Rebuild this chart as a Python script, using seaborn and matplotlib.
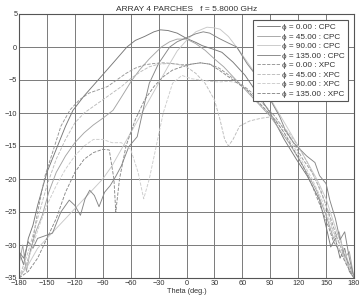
import numpy as np
import pandas as pd
import matplotlib
matplotlib.use("Agg")
import matplotlib.pyplot as plt
from matplotlib.ticker import MultipleLocator
import seaborn as sns

title = "ARRAY 4 PARCHES   f = 5.8000 GHz"
xlabel = "Theta (deg.)"

# CPC phi=0
cpc0_t = [-180, -175, -170, -165, -160, -150, -140, -130, -122, -110, -95, -80, -64, -55, -45, -35, -28, -20, -10, 0, 10, 17, 28, 38, 50, 63, 74, 90, 105, 118, 130, 143, 150, 155, 160, 165, 170, 175, 180]
cpc0_v = [-31, -33, -29, -27, -24, -19, -15.5, -12, -9.6, -7.4, -5.0, -2.6, 0.0, 1.0, 1.6, 2.3, 2.6, 2.5, 2.1, 1.3, 0.7, 0.2, -0.3, -0.8, -2.3, -4.3, -6.6, -10, -14, -17, -19.6, -23.2, -27.2, -30.3, -29, -32, -30.5, -34, -35]
# CPC phi=45
cpc45_t = [-180, -176, -172, -168, -162, -155, -148, -140, -130, -120, -110, -100, -90, -79, -70, -59, -50, -40, -27, -18, -10, 0, 10, 20, 30, 40, 50, 60, 70, 80, 90, 100, 110, 120, 130, 140, 150, 158, 164, 170, 175, 180]
cpc45_v = [-33, -30, -34, -31, -28, -25.5, -22, -19, -16.5, -14.5, -13, -11.8, -10.8, -9.6, -7.6, -5.1, -3.4, -1.8, 0.0, 0.8, 1.2, 1.2, 0.5, -0.5, -1.8, -3.0, -4.5, -6.0, -7.5, -9.0, -10.5, -12.5, -14.5, -16.8, -19.2, -21.8, -25.5, -29, -28, -32, -31, -35]
# CPC phi=90
cpc90_t = [-180, -170, -160, -150, -140, -130, -120, -110, -100, -90, -80, -70, -60, -50, -40, -30, -20, -10, 0, 10, 22, 30, 36, 45, 57, 68, 79, 90, 100, 110, 120, 130, 140, 150, 158, 164, 170, 175, 180]
cpc90_v = [-35, -33, -30.5, -29, -27.5, -26, -24.5, -23, -21.5, -20, -18, -15.5, -13, -10.5, -8, -5.5, -3, -0.6, 1.0, 2.3, 3.0, 2.9, 2.7, 1.6, -0.6, -2.8, -5.1, -7.8, -10.2, -12.6, -15, -17.5, -20, -23, -26.5, -29, -31, -33, -35]
# CPC phi=135
cpc135_t = [-180, -175, -170, -165, -160, -150, -144, -135, -126, -120, -114, -109, -104, -99, -94, -88, -82, -76, -70, -62, -53, -45, -40, -30, -18, -10, 0, 10, 18, 25, 35, 45, 54, 65, 79, 90, 100, 106, 115, 129, 138, 143, 150, 154, 160, 165, 170, 175, 180]
cpc135_v = [-31, -32, -29.5, -30.5, -29, -28.5, -28.2, -25, -23.2, -24, -25.5, -23, -21.7, -22.5, -24.2, -22, -21, -19.6, -18, -15.1, -13.6, -8.5, -5.5, -2.5, 0.0, 0.8, 1.4, 2.0, 2.3, 2.1, 1.3, 0.6, 0.0, -2.5, -5.1, -8, -10.5, -12.5, -14.5, -16.5, -17.5, -19.5, -20.7, -23.2, -26, -29.2, -28, -32, -35]
# XPC phi=0
xpc0_t = [-180, -172, -166, -160, -152, -144, -135, -125, -115, -105, -95, -85, -75, -65, -55, -45, -35, -25, -15, -5, 5, 15, 25, 35, 45, 55, 65, 75, 85, 95, 105, 115, 125, 135, 145, 155, 162, 168, 175, 180]
xpc0_v = [-35, -33, -30, -25, -19.5, -16, -12, -9.5, -8, -7, -6.5, -6, -5, -4, -3.2, -2.7, -2.5, -2.4, -2.5, -2.7, -2.6, -2.4, -2.6, -3.2, -4.2, -5.3, -6.3, -7.5, -9, -10.5, -12.5, -14.5, -17, -19, -22, -26, -29, -31, -33, -35]
# XPC phi=45
xpc45_t = [-180, -170, -160, -150, -140, -130, -120, -110, -100, -90, -80, -70, -60, -50, -40, -30, -20, -10, 0, 10, 20, 30, 36, 41, 45, 50, 57, 68, 80, 90, 100, 110, 120, 130, 140, 150, 158, 165, 172, 180]
xpc45_v = [-35, -31, -26, -21, -17, -14, -11.5, -10, -9, -8, -7, -6, -4.8, -3.8, -3, -2.6, -2.5, -2.6, -3, -4, -5.5, -8, -11, -14, -15, -14, -12, -11.2, -10.8, -10.6, -11.5, -13, -15, -17.5, -20.5, -24, -28, -30, -33, -35]
# XPC phi=90
xpc90_t = [-180, -172, -165, -158, -150, -140, -130, -120, -110, -100, -90, -80, -70, -60, -52, -46, -40, -34, -25, -15, -5, 5, 15, 25, 35, 45, 55, 65, 75, 85, 95, 105, 115, 125, 135, 145, 155, 162, 170, 180]
xpc90_v = [-35, -33, -30, -27, -24, -21, -18.5, -16.5, -15, -14, -14, -14.5, -14.5, -15.5, -19, -23, -20, -16, -10, -5.5, -4.3, -4.8, -5, -5.2, -5.3, -5.2, -5.4, -6.5, -8, -9.5, -11, -13, -15, -17.5, -20, -23, -27, -30, -32, -35]
# XPC phi=135
xpc135_t = [-180, -170, -160, -150, -140, -130, -120, -110, -100, -90, -83, -78, -76, -72, -65, -55, -45, -35, -25, -15, -5, 5, 15, 25, 35, 45, 55, 65, 75, 85, 95, 105, 115, 125, 135, 145, 152, 158, 165, 172, 180]
xpc135_v = [-35, -34, -32, -29, -26, -22, -19, -17, -16, -15.5, -15.6, -20, -25, -20, -15, -11, -8, -6, -4.5, -3.5, -3, -2.6, -2.4, -2.6, -3.5, -4.5, -5.5, -6.5, -8, -9.5, -11, -13, -15.5, -18, -21, -24.5, -27, -29.5, -31, -33, -35]

labels = ["\u03d5 = 0.00 : CPC", "\u03d5 = 45.00 : CPC", "\u03d5 = 90.00 : CPC", "\u03d5 = 135.00 : CPC",
          "\u03d5 = 0.00 : XPC", "\u03d5 = 45.00 : XPC", "\u03d5 = 90.00 : XPC", "\u03d5 = 135.00 : XPC"]
series_t = [cpc0_t, cpc45_t, cpc90_t, cpc135_t, xpc0_t, xpc45_t, xpc90_t, xpc135_t]
series_v = [cpc0_v, cpc45_v, cpc90_v, cpc135_v, xpc0_v, xpc45_v, xpc90_v, xpc135_v]
colors = ["#777777", "#a4a4a4", "#c8c8c8", "#858585", "#959595", "#bbbbbb", "#cccccc", "#888888"]
styles = ["-", "-", "-", "-", "--", "--", "--", "--"]

sns.set_style("white")
plt.rcParams["font.family"] = ["Liberation Sans", "DejaVu Sans"]

fig = plt.figure(figsize=(3.6, 2.95), dpi=100)
ax = fig.add_axes([19/360, 17/295, 335/360, 264/295])

for t, v, lab, c, ls in zip(series_t, series_v, labels, colors, styles):
    df = pd.DataFrame({"theta": t, "gain": v})
    sns.lineplot(data=df, x="theta", y="gain", ax=ax, color=c, linestyle=ls,
                 linewidth=0.65, label=lab, sort=False)

ax.set_xlim(-180, 180)
ax.set_ylim(-35, 5)
ax.set_xticks(np.arange(-180, 181, 30))
ax.set_yticks(np.arange(-35, 6, 5))
ax.xaxis.set_minor_locator(MultipleLocator(10))
ax.yaxis.set_minor_locator(MultipleLocator(1))
ax.grid(True, which="major", color="#7a7a7a", linewidth=0.7)
ax.tick_params(which="both", direction="in", labelsize=5.3, pad=1.2, colors="#333333")
ax.tick_params(which="major", length=2.5, width=0.5)
ax.tick_params(which="minor", length=1.5, width=0.4)
for s in ax.spines.values():
    s.set_color("#555555")
    s.set_linewidth(0.8)
ax.set_xlabel(xlabel, fontsize=5.3, labelpad=1, color="#333333")
ax.set_ylabel("")
ax.set_title(title, fontsize=6, pad=2.5, color="#333333")

leg = ax.legend(loc="upper right", bbox_to_anchor=(0.982, 0.977), fontsize=5.9,
                handlelength=2.8, labelspacing=0.22, handletextpad=0.3,
                borderpad=0.4, borderaxespad=0, fancybox=False, framealpha=1,
                edgecolor="#555555")
leg.get_frame().set_linewidth(0.8)
for txt in leg.get_texts():
    txt.set_color("#333333")

fig.savefig("out.png", dpi=100)
